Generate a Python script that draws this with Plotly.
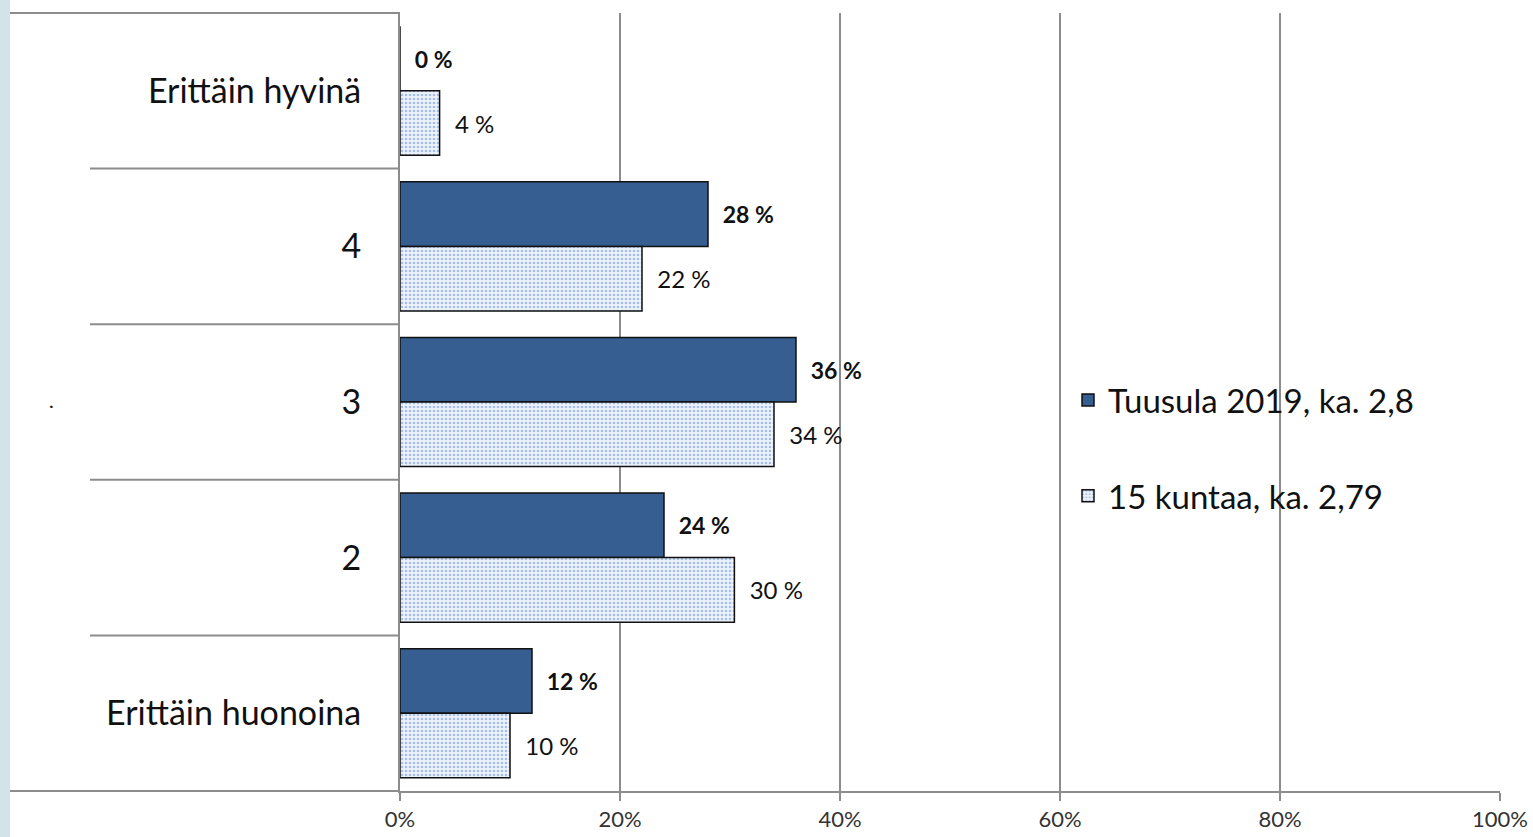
import plotly.graph_objects as go

categories = ["Erittäin hyvinä", "4", "3", "2", "Erittäin huonoina"]
tuusula = [0, 28, 36, 24, 12]
kunnat = [3.6, 22, 34, 30.4, 10]
tuusula_labels = ["0 %", "28 %", "36 %", "24 %", "12 %"]
kunnat_labels = ["4 %", "22 %", "34 %", "30 %", "10 %"]
series_names = ["Tuusula 2019, ka. 2,8", "15 kuntaa, ka. 2,79"]
x_ticks = [0, 20, 40, 60, 80, 100]
x_ticklabels = ["0%", "20%", "40%", "60%", "80%", "100%"]

FONT = "Lato"
GRID = "#8c8c8c"

fig = go.Figure()
fig.add_trace(go.Bar(
    y=categories, x=tuusula, orientation="h", name=series_names[0],
    marker=dict(color="#365E91", line=dict(color="#111111", width=1.5)),
    text=["<b>" + t + "</b>" for t in tuusula_labels], textposition="outside",
    texttemplate="  %{text}",
    textfont=dict(family=FONT, size=23, color="#111111"),
    cliponaxis=False, legendgroup="a",
))
fig.add_trace(go.Bar(
    y=categories, x=kunnat, orientation="h", name=series_names[1],
    marker=dict(color="#EEF3FB", line=dict(color="#111111", width=1.5),
                pattern=dict(shape=".", fgcolor="#5A8AD0", bgcolor="#EEF3FB",
                             size=4, solidity=0.35)),
    text=kunnat_labels, textposition="outside", texttemplate="  %{text}",
    textfont=dict(family=FONT, size=24, color="#111111"),
    cliponaxis=False, legendgroup="b",
))

shapes = []
# left decorative strip
shapes.append(dict(type="rect", xref="paper", yref="paper", x0=-400/1100, x1=-390/1100,
                   y0=-1, y1=2, fillcolor="#D3E3EA", line=dict(width=0), layer="below"))
# top border line of category area
shapes.append(dict(type="line", xref="paper", yref="paper", x0=-390/1100, x1=0, y0=1, y1=1,
                   line=dict(color=GRID, width=2)))
# bottom axis extension
shapes.append(dict(type="line", xref="paper", yref="paper", x0=-390/1100, x1=0, y0=0, y1=0,
                   line=dict(color=GRID, width=2)))
# category separators
for i in range(len(categories) - 1):
    shapes.append(dict(type="line", xref="paper", yref="y", x0=-310/1100, x1=0,
                       y0=i + 0.5, y1=i + 0.5, line=dict(color=GRID, width=2)))

fig.update_layout(
    width=1533, height=837, autosize=False,
    margin=dict(l=400, r=33, t=13, b=46, autoexpand=False),
    paper_bgcolor="white", plot_bgcolor="white",
    barmode="group", bargap=0.17, bargroupgap=0,
    font=dict(family=FONT, color="#111111"),
    shapes=shapes,
    legend=dict(x=(1068 - 400) / 1100, y=(791 - 448) / 778, xanchor="left", yanchor="middle",
                font=dict(family=FONT, size=33, color="#111111"),
                traceorder="grouped", tracegroupgap=50,
                bgcolor="rgba(0,0,0,0)", itemwidth=30),
    annotations=[dict(text=".", xref="paper", yref="paper", x=-353/1100, y=(791 - 400) / 778,
                      showarrow=False, font=dict(size=20, family=FONT))],
)
fig.update_xaxes(
    range=[0, 100], tickvals=x_ticks, ticktext=x_ticklabels,
    showgrid=True, gridcolor=GRID, gridwidth=2,
    showline=True, linecolor=GRID, linewidth=2,
    ticks="outside", ticklen=8, tickcolor=GRID, tickwidth=2,
    tickfont=dict(family=FONT, size=22, color="#333333"),
    ticklabelstandoff=0, zeroline=False, automargin=False,
)
fig.update_yaxes(
    autorange="reversed", showgrid=False,
    showline=True, linecolor=GRID, linewidth=2,
    ticks="", tickfont=dict(family=FONT, size=34, color="#111111"),
    ticklabelstandoff=30, automargin=False,
)

fig.write_html("out.html", config={"displayModeBar": False},
               post_script="document.body.style.margin='0px';")
